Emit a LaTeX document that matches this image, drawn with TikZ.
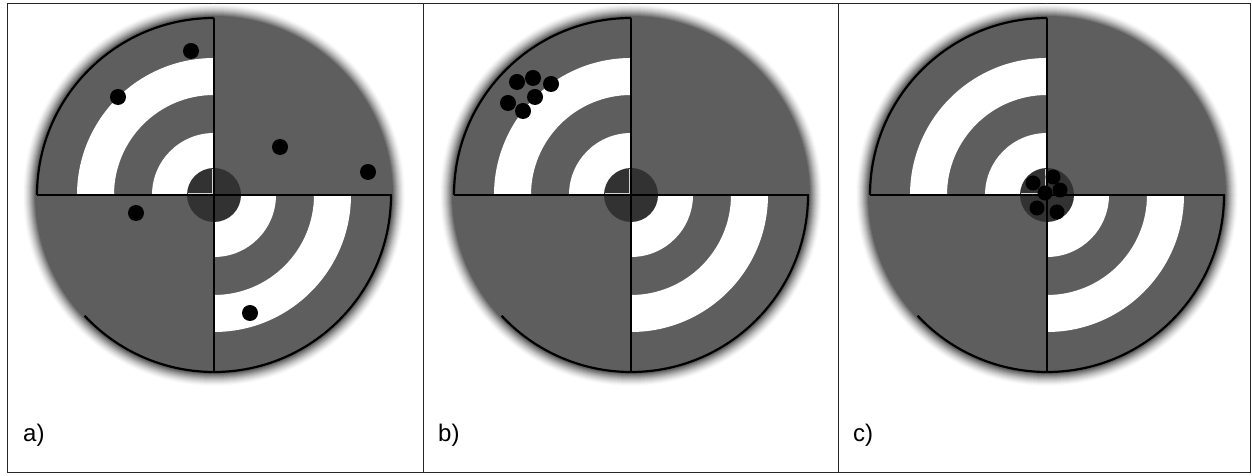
\documentclass[tikz,border=0pt]{standalone}
\usepackage{fontspec}
\setmainfont{Liberation Sans}
\definecolor{tgray}{RGB}{94,94,94}
\definecolor{tdark}{RGB}{50,50,50}
\tikzset{
  ring/.style={fill=white},
  edgearc/.style={draw=black, line width=2.2pt},
  cross/.style={draw=black, line width=1.3pt},
  shot/.style={fill=black},
  frameline/.style={draw=black!85, line width=1pt},
  paneltag/.style={anchor=base west, inner sep=0pt, font=\fontsize{24}{28}\selectfont},
}
\newcommand{\annsec}[4]{% start, end, r1, r2
  \fill[ring] (#1:#4) arc[start angle=#1, end angle=#2, radius=#4] -- (#2:#3) arc[start angle=#2, end angle=#1, radius=#3] -- cycle;}
\newcommand{\tgt}{%
  \foreach \i in {0,...,12}{
    \pgfmathsetmacro{\rr}{191-\i}
    \pgfmathsetmacro{\pc}{(\i+1)^1.5/13^1.5*100}
    \fill[tgray!\pc!white] (0,0) circle (\rr);
  }
  \fill[tgray] (0,0) circle (178);
  % rings top-left
  \annsec{90}{180}{100}{137}
  \fill[ring] (0,0) -- (90:62) arc[start angle=90, end angle=180, radius=62] -- cycle;
  % rings bottom-right
  \annsec{270}{360}{100}{137}
  \fill[ring] (0,0) -- (270:62) arc[start angle=270, end angle=360, radius=62] -- cycle;
  % bull
  \fill[tdark] (0,0) circle (27);
  \draw[gray!35, line width=0.9pt] (-1.6,26) -- (-1.6,1.6) -- (-26,1.6);
  % outlines
  \draw[edgearc] (90:177) arc[start angle=90, end angle=180, radius=177];
  \draw[edgearc] (270:177) arc[start angle=270, end angle=360, radius=177];
  \draw[edgearc] (223:177) arc[start angle=223, end angle=270, radius=177];
  \draw[cross] (-177,0) -- (178,0);
  \draw[cross] (0,177) -- (0,-177);
}
\begin{document}
\begin{tikzpicture}[x=1pt,y=1pt]
\useasboundingbox (0,0) rectangle (1252,476);
\fill[white] (0,0) rectangle (1252,476);
% frame
\draw[frameline] (7,3.5) rectangle (1250.5,472.5);
\draw[frameline] (423,3.5) -- (423,472.5);
\draw[frameline] (838,3.5) -- (838,472.5);
% panel a
\begin{scope}[shift={(214,281)}]\tgt\end{scope}
\foreach \p in {(191,425),(118,379),(280,329),(368,304),(136,263),(250,163)}
  \fill[shot] \p circle (8);
% panel b
\begin{scope}[shift={(631,281)}]\tgt\end{scope}
\foreach \p in {(517,394),(533,398),(551,392),(535,379),(508,373),(523,365)}
  \fill[shot] \p circle (8);
% panel c
\begin{scope}[shift={(1047,281)}]\tgt\end{scope}
\foreach \p in {(1033,293),(1053,299),(1060,286),(1045,283),(1037,268),(1057,264)}
  \fill[shot] \p circle (7.5);
% labels
\node[paneltag] (la) at (23,34) {a)};
\node[paneltag] (lb) at (438,34) {b)};
\node[paneltag] (lc) at (853,34) {c)};
\end{tikzpicture}
\end{document}
